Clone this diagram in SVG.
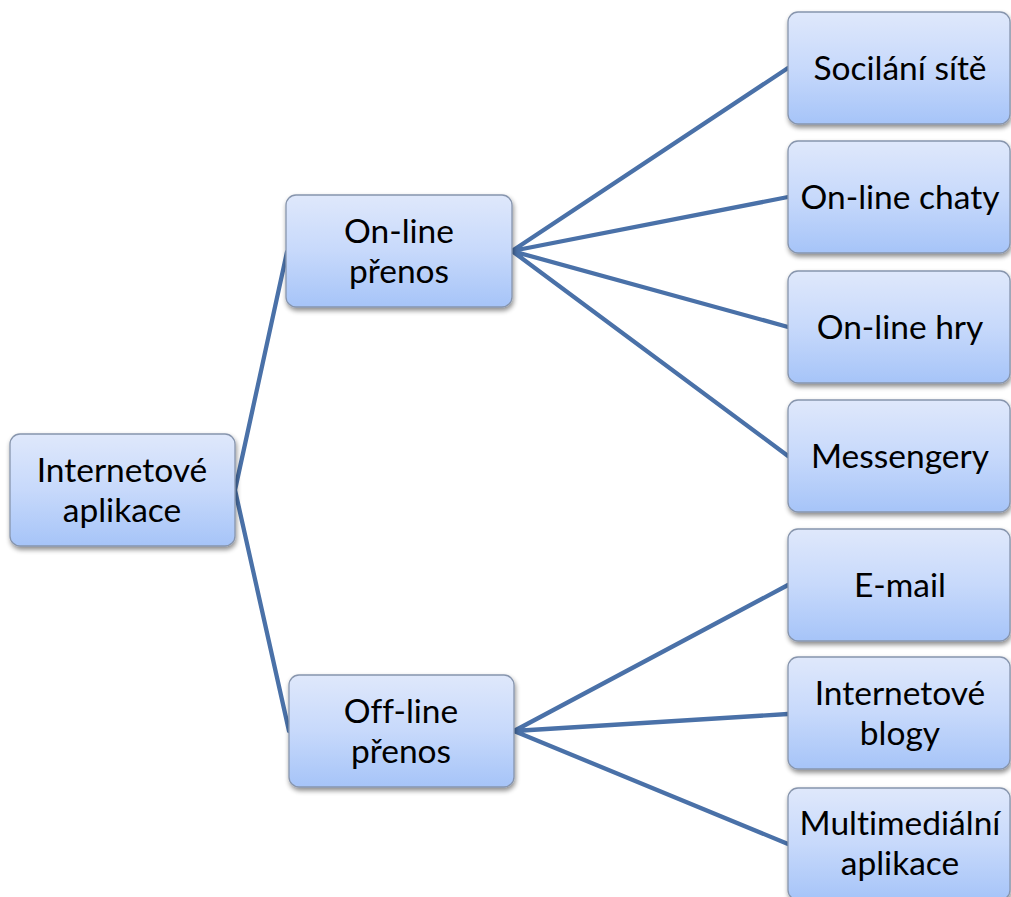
<svg xmlns="http://www.w3.org/2000/svg" width="1011" height="897" viewBox="0 0 1011 897">
<defs>
<linearGradient id="g" x1="0" y1="0" x2="0" y2="1">
<stop offset="0" stop-color="#dfe8fb"/>
<stop offset="0.5" stop-color="#c7d9fb"/>
<stop offset="1" stop-color="#a6c4f8"/>
</linearGradient>
<filter id="sh" x="-10%" y="-10%" width="130%" height="140%">
<feGaussianBlur in="SourceAlpha" stdDeviation="2.5"/>
<feOffset dx="1" dy="3" result="b"/>
<feComponentTransfer><feFuncA type="linear" slope="0.45"/></feComponentTransfer>
<feMerge><feMergeNode/><feMergeNode in="SourceGraphic"/></feMerge>
</filter>
</defs>
<style>
.box{fill:url(#g);stroke:#8795ad;stroke-width:1.3;filter:url(#sh)}
.t{font-family:Lato,"Liberation Sans",sans-serif;font-size:33.5px;fill:#000;text-anchor:middle;font-variant-ligatures:none}
.c{stroke:#4a71a8;stroke-width:4.3;fill:none;stroke-linecap:round}
</style>
<rect width="1011" height="897" fill="#fff"/>
<g id="connectors">
<path class="c" d="M235 490 L287 252 M235 490 L289 731"/>
<path class="c" d="M512 251 L788 68 M512 251 L788 197 M512 251 L788 327 M512 251 L788 456"/>
<path class="c" d="M514 731 L788 585 M514 731 L788 714 M514 731 L788 844"/>
</g>
<g id="n-root"><rect class="box" x="10" y="434" width="225" height="112" rx="10"/>
<text class="t" x="122" y="482">Internetové</text><text class="t" x="122" y="522">aplikace</text></g>
<g id="n-online"><rect class="box" x="286" y="195" width="226" height="112" rx="10"/>
<text class="t" x="399" y="243">On-line</text><text class="t" x="399" y="283">přenos</text></g>
<g id="n-offline"><rect class="box" x="289" y="675" width="225" height="112" rx="10"/>
<text class="t" x="401" y="723">Off-line</text><text class="t" x="401" y="763">přenos</text></g>
<g id="n-soc"><rect class="box" x="788" y="12" width="222" height="112" rx="10"/>
<text class="t" x="900" y="80">Socilání sítě</text></g>
<g id="n-chat"><rect class="box" x="788" y="141" width="222" height="112" rx="10"/>
<text class="t" x="900" y="209">On-line chaty</text></g>
<g id="n-hry"><rect class="box" x="788" y="271" width="222" height="112" rx="10"/>
<text class="t" x="900" y="339">On-line hry</text></g>
<g id="n-mess"><rect class="box" x="788" y="400" width="222" height="112" rx="10"/>
<text class="t" x="900" y="468">Messengery</text></g>
<g id="n-mail"><rect class="box" x="788" y="529" width="222" height="112" rx="10"/>
<text class="t" x="900" y="597">E-mail</text></g>
<g id="n-blog"><rect class="box" x="788" y="657" width="222" height="112" rx="10"/>
<text class="t" x="900" y="705">Internetové</text><text class="t" x="900" y="745">blogy</text></g>
<g id="n-multi"><rect class="box" x="788" y="788" width="222" height="112" rx="10"/>
<text class="t" x="900" y="835">Multimediální</text><text class="t" x="900" y="875">aplikace</text></g>
</svg>
